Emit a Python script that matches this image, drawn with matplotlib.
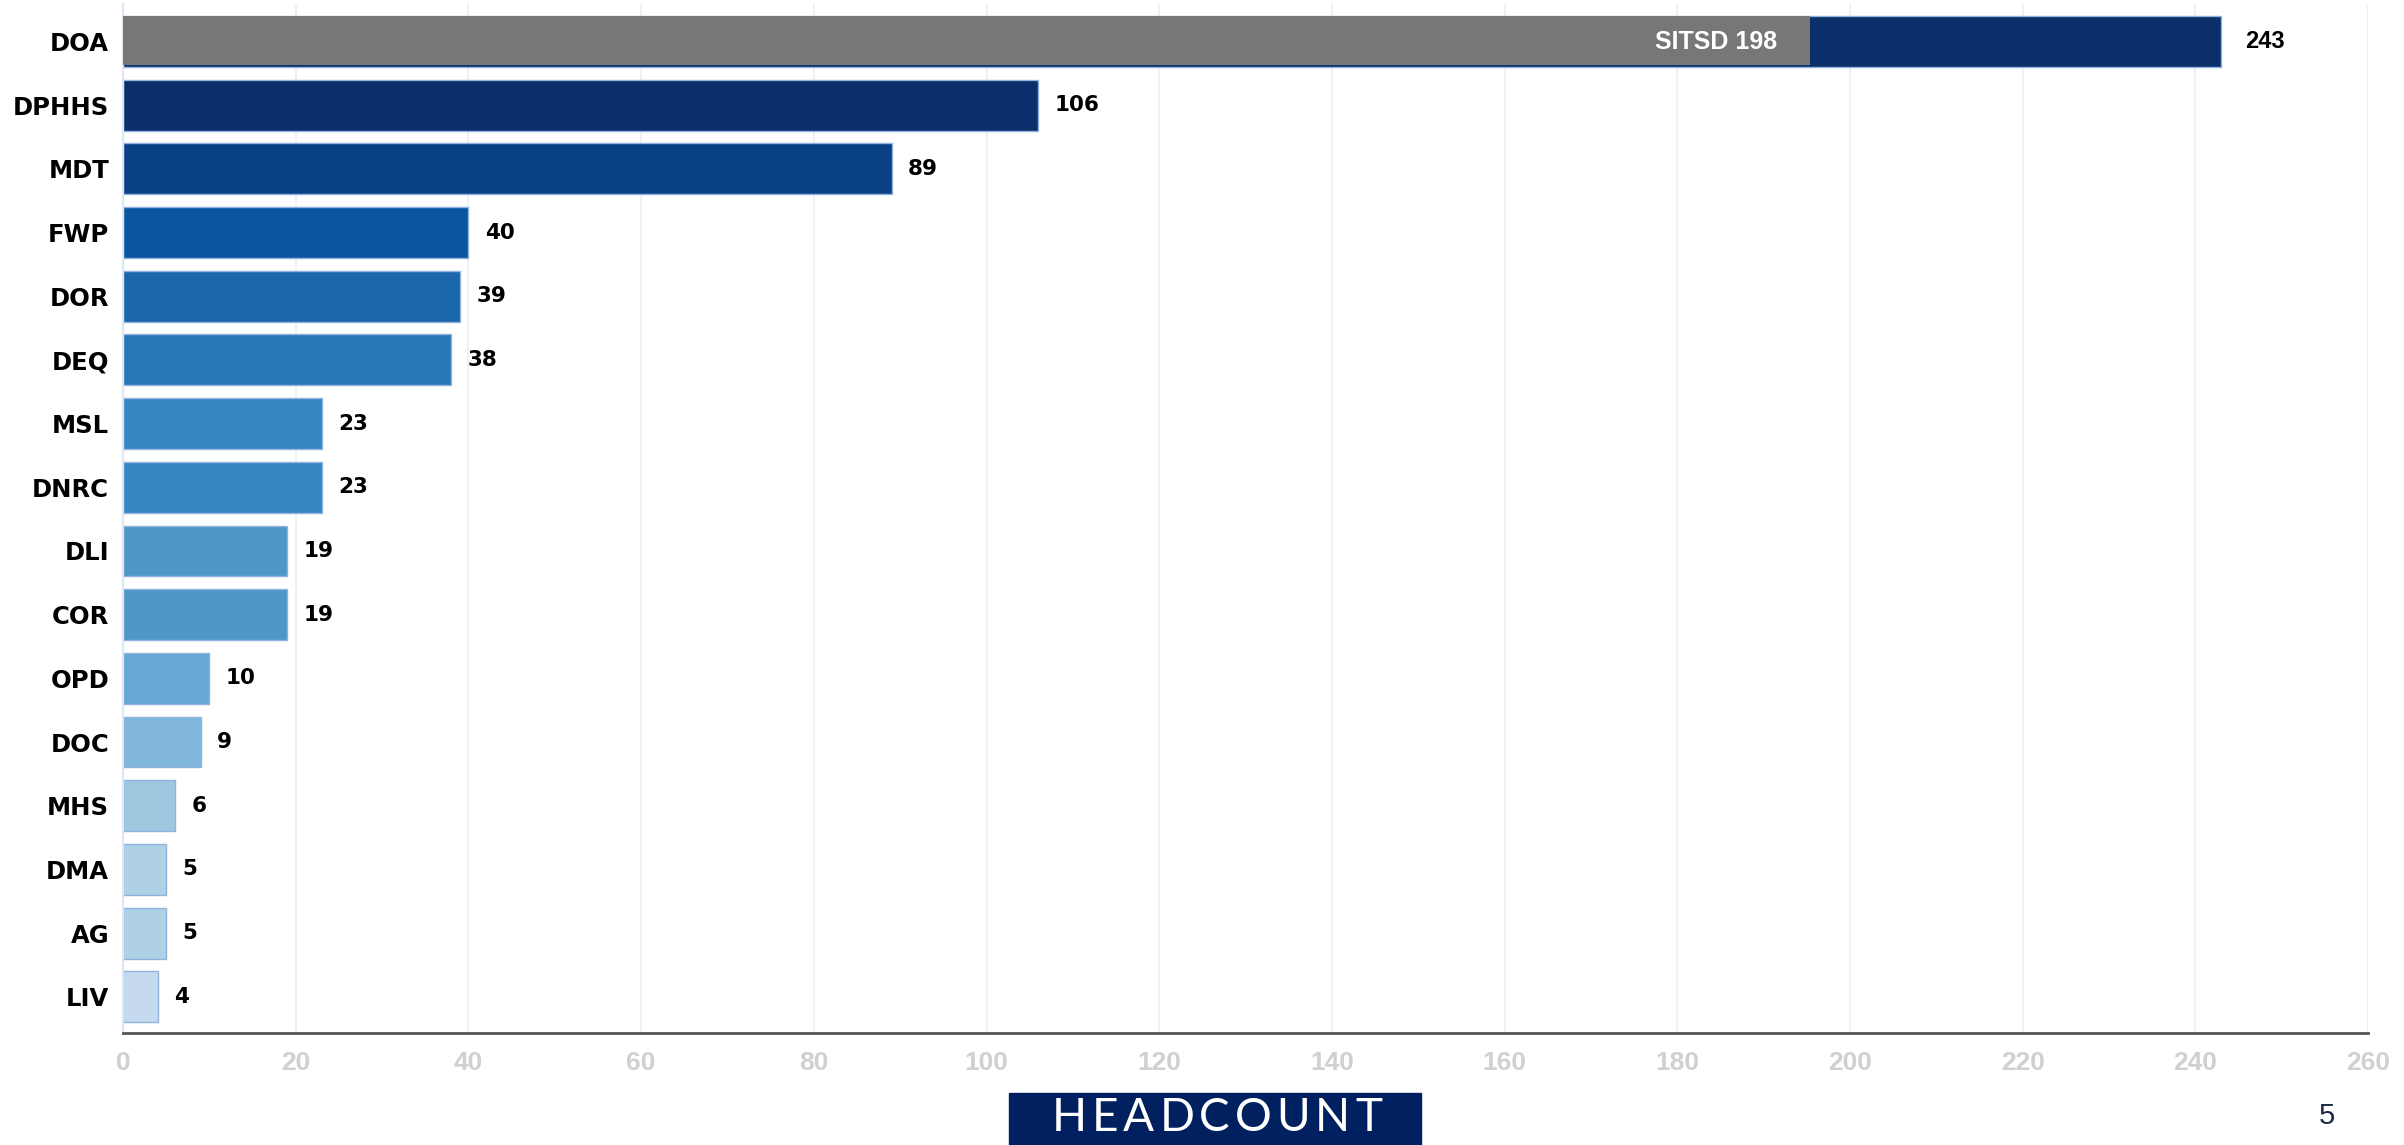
import matplotlib
matplotlib.use('Agg')
import matplotlib.pyplot as plt
from matplotlib.patches import Rectangle

# agency headcount, top to bottom
agencies = ['DOA', 'DPHHS', 'MDT', 'FWP', 'DOR', 'DEQ', 'MSL', 'DNRC',
            'DLI', 'COR', 'OPD', 'DOC', 'MHS', 'DMA', 'AG', 'LIV']
headcount = [243, 106, 89, 40, 39, 38, 23, 23, 19, 19, 10, 9, 6, 5, 5, 4]
bar_colors = ['#0b3069', '#0b2f6a', '#0a4184', '#0b55a0', '#1b65ab', '#2a77b8',
              '#3787c0', '#3787c0', '#4d98c9', '#4d98c9', '#64a8d3', '#7fb6da',
              '#9cc7df', '#aed1e5', '#aed1e5', '#c6daef']

# SITSD share inside DOA (bar drawn)
sitsd_label = 'SITSD 198'
sitsd_bar = 195.5

xticks = list(range(0, 261, 20))
title = 'HEADCOUNT'
page_no = '5'

plt.rcParams['font.family'] = ['Liberation Sans', 'DejaVu Sans']

fig = plt.figure(figsize=(24.04, 11.45), dpi=100)
ax = fig.add_axes([0.0512, 0.0978, 0.9339, 0.8987])

ypos = list(range(len(agencies)))
ax.barh(ypos, headcount, height=0.8, color=bar_colors,
        edgecolor='#8fb3dc', linewidth=1.0, zorder=2)

# grey SITSD overlay on the DOA bar
ax.barh([-0.015], [sitsd_bar], height=0.77, left=-0.1, color='#777777',
        edgecolor='none', zorder=3)
ax.text(sitsd_bar - 4, 0, sitsd_label, color='white', fontsize=18,
        fontweight='bold', ha='right', va='center', zorder=4)

for i, v in enumerate(headcount):
    if i == 0:
        ax.text(v + 2.8, i, str(v), fontsize=17, fontweight='bold',
                ha='left', va='center', color='black', zorder=4)
    else:
        ax.text(v + 1.9, i, str(v), fontsize=15.5, fontweight='bold',
                family='DejaVu Sans', ha='left', va='center',
                color='black', zorder=4)

ax.set_xlim(0, 260)
ax.set_ylim(15.57, -0.59)
ax.set_xticks(xticks)
ax.set_yticks(ypos)
ax.set_yticklabels(agencies, fontsize=17.5, fontweight='bold',
                   family='DejaVu Sans')
ax.tick_params(axis='y', length=0, pad=10)
ax.tick_params(axis='x', length=0, pad=13, labelsize=19,
               labelcolor='#d0d0d0')
for lbl in ax.get_xticklabels():
    lbl.set_fontweight('bold')

ax.grid(axis='x', color='#eef1f6', linewidth=1.5, zorder=0)
ax.set_axisbelow(True)
for s in ['top', 'right']:
    ax.spines[s].set_visible(False)
ax.spines['bottom'].set_color('#555555')
ax.spines['bottom'].set_linewidth(2.0)
ax.spines['left'].set_color('#dde6f2')
ax.spines['left'].set_linewidth(1.6)

# footer: title box and page number
fig.patches.append(Rectangle((1009 / 2404, 0), 412 / 2404, 52 / 1145,
                             transform=fig.transFigure, color='#002060',
                             zorder=1))

# title with wide letter spacing, placed one letter at a time
renderer = fig.canvas.get_renderer()
tracking = 5  # extra px between letters
letters = []
for ch in title:
    t = fig.text(0, 27 / 1145, ch, color='white', fontsize=33,
                 family=['Lato', 'DejaVu Sans'], fontweight='normal',
                 ha='left', va='center')
    letters.append((t, t.get_window_extent(renderer).width))
total = sum(w for _, w in letters) + tracking * (len(letters) - 1)
x = 1217 - total / 2
for t, w in letters:
    t.set_x(x / 2404)
    x += w + tracking

fig.text(2327 / 2404, 29 / 1145, page_no, color='#1b2a47', fontsize=21,
         ha='center', va='center')

fig.savefig('out.png', dpi=100)
